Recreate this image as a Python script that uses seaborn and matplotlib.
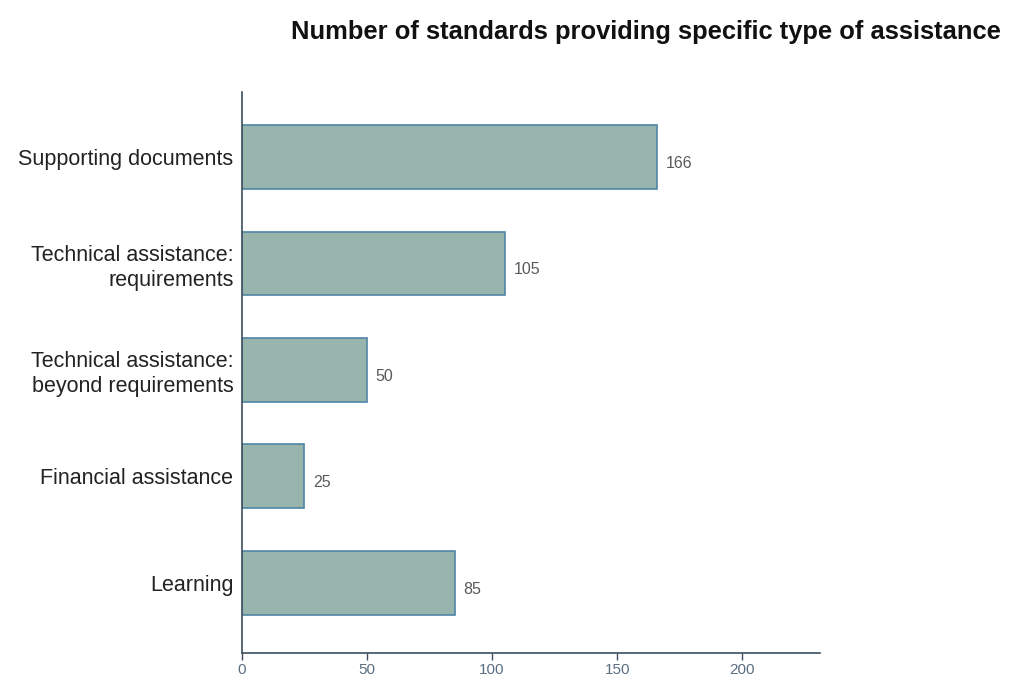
import pandas as pd
import matplotlib.pyplot as plt
import seaborn as sns

categories = [
    "Supporting documents",
    "Technical assistance:\nrequirements",
    "Technical assistance:\nbeyond requirements",
    "Financial assistance",
    "Learning",
]
counts = [166, 105, 50, 25, 85]
x_ticks = [0, 50, 100, 150, 200]

sns.set_theme(style="white")
plt.rcParams['font.family'] = ['Liberation Sans', 'DejaVu Sans']

df = pd.DataFrame({"category": categories, "count": counts})

fig = plt.figure(figsize=(10.16, 6.78), dpi=100)
ax = fig.add_axes([0.238, 0.037, 0.569, 0.827])

sns.barplot(data=df, x="count", y="category", orient="h", ax=ax,
            color="#97b4ad", saturation=1, width=0.6,
            edgecolor="#4f86a6", linewidth=1.2)

# value labels just right of each bar
for i, v in enumerate(counts):
    ax.text(v + 3.5, i + 0.06, str(v), va="center", ha="left",
            fontsize=11.5, color="#5a5a5a")

ax.set_xlim(0, 231)
ax.set_ylim(4.66, -0.61)
ax.set_xticks(x_ticks)
ax.set_xlabel("")
ax.set_ylabel("")
ax.tick_params(axis="x", length=5, width=1, color="#3d4f5f",
               labelsize=11, labelcolor="#5b6e80", pad=2, bottom=True)
ax.tick_params(axis="y", length=0, labelsize=15.5, labelcolor="#222222", pad=6)
for lbl in ax.get_yticklabels():
    lbl.set_horizontalalignment("right")
    lbl.set_multialignment("right")
    lbl.set_linespacing(1.25)

sns.despine(ax=ax, top=True, right=True)
for side in ["left", "bottom"]:
    ax.spines[side].set_color("#3d4f5f")
    ax.spines[side].set_linewidth(1.2)

fig.text(0.985, 0.953, "Number of standards providing specific type of assistance",
         ha="right", va="center", fontsize=18.4, fontweight="bold", color="#111111")

fig.savefig("out.png", dpi=100)
